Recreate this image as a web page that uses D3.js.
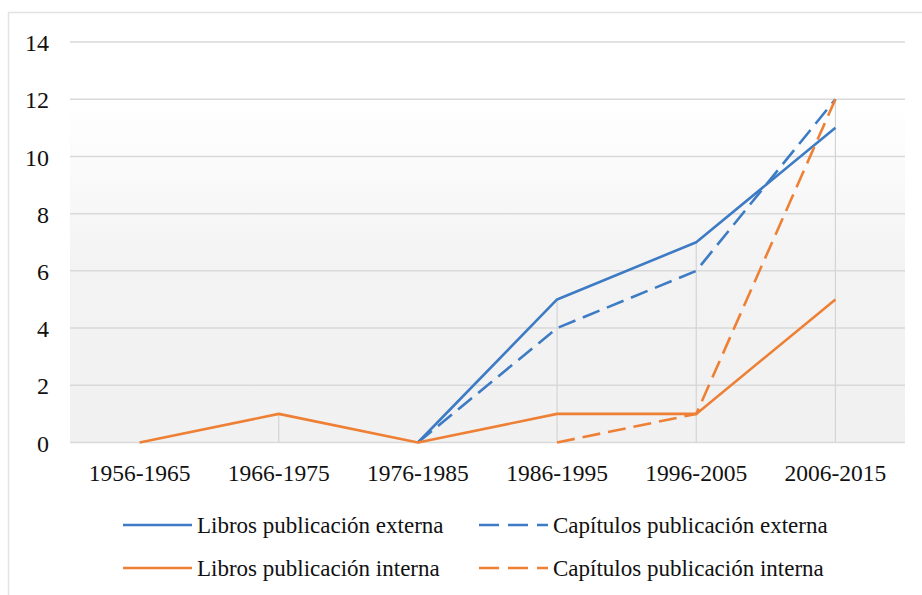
<!DOCTYPE html>
<html>
<head>
<meta charset="utf-8">
<script src="https://cdn.jsdelivr.net/npm/d3@7"></script>
<style>
  html, body { margin: 0; padding: 0; background: #fff; }
  svg { display: block; }
</style>
</head>
<body>
<svg id="chart" width="922" height="595"></svg>
<script>
const categories = ["1956-1965", "1966-1975", "1976-1985", "1986-1995", "1996-2005", "2006-2015"];
const librosExterna    = [null, null, 0, 5, 7, 11];
const capitulosExterna = [null, null, 0, 4, 6, 12];
const librosInterna    = [0, 1, 0, 1, 1, 5];
const capitulosInterna = [null, null, null, 0, 1, 12];
const yTicks = [0, 2, 4, 6, 8, 10, 12, 14];

const series = [
  { name: "Libros publicación externa",    values: librosExterna,    color: "#3d7bc4", dashed: false },
  { name: "Capítulos publicación externa", values: capitulosExterna, color: "#3d7bc4", dashed: true },
  { name: "Libros publicación interna",    values: librosInterna,    color: "#ee8036", dashed: false },
  { name: "Capítulos publicación interna", values: capitulosInterna, color: "#ee8036", dashed: true }
];

const FONT = "'Liberation Serif', 'Times New Roman', serif";

const svg = d3.select("#chart");
const pLeft = 70, pRight = 905, pTop = 42, pBottom = 442.5;

const x = d3.scaleBand().domain(categories).range([pLeft, pRight]).padding(0);
const y = d3.scaleLinear().domain([0, 14]).range([pBottom, pTop]);
const cx = c => x(c) + x.bandwidth() / 2;

// outer border (left and top visible)
svg.append("path").attr("d", "M8.5,595 L8.5,12.5 L922,12.5")
  .attr("fill", "none").attr("stroke", "#e3e3e3").attr("stroke-width", 1.5);

// plot background gradient
const defs = svg.append("defs");
const grad = defs.append("linearGradient").attr("id", "bg")
  .attr("x1", 0).attr("y1", 0).attr("x2", 0).attr("y2", 1);
grad.append("stop").attr("offset", "0%").attr("stop-color", "#ffffff");
grad.append("stop").attr("offset", "15%").attr("stop-color", "#ffffff");
grad.append("stop").attr("offset", "55%").attr("stop-color", "#f3f3f3");
grad.append("stop").attr("offset", "100%").attr("stop-color", "#f1f1f1");
svg.append("rect").attr("x", pLeft).attr("y", pTop).attr("width", pRight - pLeft).attr("height", pBottom - pTop)
  .attr("fill", "url(#bg)");

// horizontal gridlines
svg.append("g").selectAll("line").data(yTicks).join("line")
  .attr("x1", pLeft).attr("x2", pRight)
  .attr("y1", d => y(d)).attr("y2", d => y(d))
  .attr("stroke", "#d9d9d9").attr("stroke-width", 1.5);

// drop lines: from highest value in each category down to zero
const maxPerCat = categories.map((c, i) => ({
  c, v: d3.max(series, s => s.values[i])
}));
svg.append("g").selectAll("line").data(maxPerCat.filter(d => d.v > 0)).join("line")
  .attr("x1", d => cx(d.c)).attr("x2", d => cx(d.c))
  .attr("y1", d => y(d.v)).attr("y2", y(0))
  .attr("stroke", "#d4d4d4").attr("stroke-width", 1.2);

// y axis labels
const yAxis = d3.axisLeft(y).tickValues(yTicks).tickSize(0).tickPadding(0).tickFormat(d3.format("d"));
const gy = svg.append("g").attr("transform", "translate(49,0)").call(yAxis);
gy.select(".domain").remove();
gy.attr("font-family", FONT);
gy.selectAll("text").attr("font-size", "24px").attr("fill", "#111").attr("dy", "0.36em");

// x axis labels
const xAxis = d3.axisBottom(x).tickSize(0).tickPadding(0);
const gx = svg.append("g").attr("transform", "translate(0,481)").call(xAxis);
gx.select(".domain").remove();
gx.attr("font-family", FONT);
gx.selectAll("text").attr("font-size", "23.5px").attr("fill", "#111").attr("dy", 0);

// lines
const line = d3.line()
  .defined(d => d.v !== null)
  .x(d => cx(d.c))
  .y(d => y(d.v));

svg.append("g").selectAll("path").data(series).join("path")
  .attr("d", s => line(s.values.map((v, i) => ({ c: categories[i], v }))))
  .attr("fill", "none")
  .attr("stroke", s => s.color)
  .attr("stroke-width", 2.6)
  .attr("stroke-linejoin", "round")
  .attr("stroke-dasharray", s => s.dashed ? "18,8" : null);

// legend
const legendPos = [
  { lx: 123, tx: 197, ly: 525 },
  { lx: 479, tx: 553, ly: 525 },
  { lx: 123, tx: 197, ly: 568 },
  { lx: 479, tx: 553, ly: 568 }
];
const lg = svg.append("g").attr("font-family", FONT);
series.forEach((s, i) => {
  const p = legendPos[i];
  lg.append("line").attr("x1", p.lx).attr("x2", p.lx + 69).attr("y1", p.ly).attr("y2", p.ly)
    .attr("stroke", s.color).attr("stroke-width", 2.6)
    .attr("stroke-dasharray", s.dashed ? "20,9" : null);
  lg.append("text").attr("x", p.tx).attr("y", p.ly + 8).text(s.name)
    .attr("font-size", "23px").attr("fill", "#111");
});
</script>
</body>
</html>
